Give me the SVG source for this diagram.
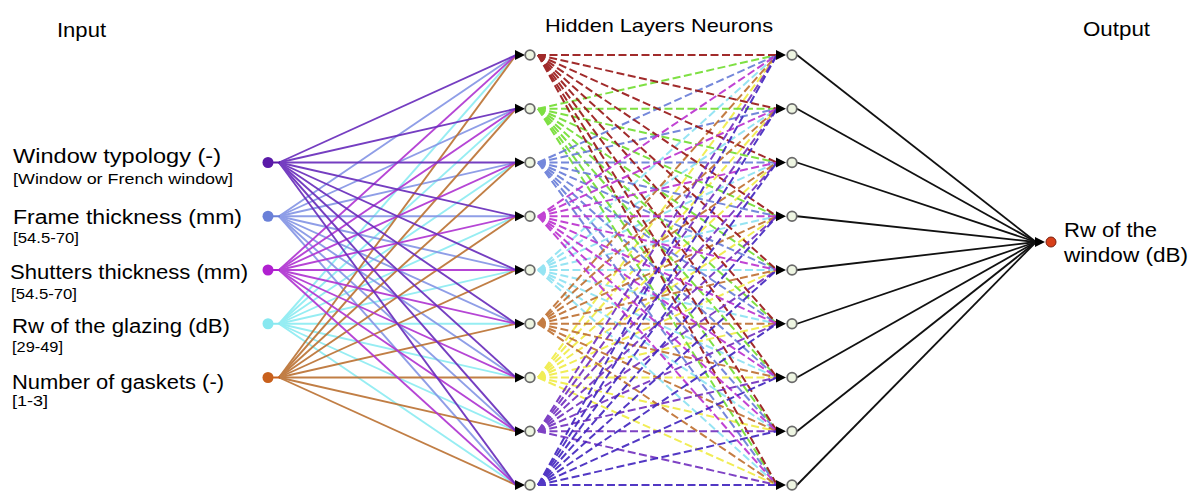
<svg xmlns="http://www.w3.org/2000/svg" xmlns:xlink="http://www.w3.org/1999/xlink" width="1192" height="491" viewBox="0 0 1192 491">
<style>
.t{font-family:"Liberation Sans",Arial,sans-serif;fill:#000}
.big{font-size:20px}
.small{font-size:14px}
.ci{fill:none;stroke-width:1.9;opacity:.92}
.dh{fill:none;stroke-width:2;stroke-dasharray:8 3.5;opacity:.92}
.out{stroke:#111;stroke-width:1.8}
.hn{fill:#eef5e2;stroke:#6a6a6a;stroke-width:1.8}
.ah{fill:#000}
</style>
<defs>
<path id="ah" d="M-10,-5L0,0L-10,5Z"/>
</defs>
<rect width="1192" height="491" fill="#fff"/>
<g id="titles">
<text class="t big" x="57" y="37" textLength="49" lengthAdjust="spacingAndGlyphs">Input</text>
<text class="t" style="font-size:19px" x="545" y="32" textLength="228" lengthAdjust="spacingAndGlyphs">Hidden Layers Neurons</text>
<text class="t big" x="1083" y="36" textLength="67" lengthAdjust="spacingAndGlyphs">Output</text>
</g>
<g id="connectors">
<g id="in-to-h1">
<g class="ci" stroke="#8eecf2">
<line x1="279" y1="323.75" x2="516" y2="55"/><line x1="279" y1="323.75" x2="516" y2="108.75"/><line x1="279" y1="323.75" x2="516" y2="162.5"/><line x1="279" y1="323.75" x2="516" y2="216.25"/><line x1="279" y1="323.75" x2="516" y2="270"/><line x1="279" y1="323.75" x2="516" y2="323.75"/><line x1="279" y1="323.75" x2="516" y2="377.5"/><line x1="279" y1="323.75" x2="516" y2="431.25"/><line x1="279" y1="323.75" x2="516" y2="485"/>
</g>
<g class="ci" stroke="#8696e6">
<line x1="279" y1="216.25" x2="516" y2="55"/><line x1="279" y1="216.25" x2="516" y2="108.75"/><line x1="279" y1="216.25" x2="516" y2="162.5"/><line x1="279" y1="216.25" x2="516" y2="216.25"/><line x1="279" y1="216.25" x2="516" y2="270"/><line x1="279" y1="216.25" x2="516" y2="323.75"/><line x1="279" y1="216.25" x2="516" y2="377.5"/><line x1="279" y1="216.25" x2="516" y2="431.25"/><line x1="279" y1="216.25" x2="516" y2="485"/>
</g>
<g class="ci" stroke="#bc7436">
<line x1="279" y1="377.5" x2="516" y2="55"/><line x1="279" y1="377.5" x2="516" y2="108.75"/><line x1="279" y1="377.5" x2="516" y2="162.5"/><line x1="279" y1="377.5" x2="516" y2="216.25"/><line x1="279" y1="377.5" x2="516" y2="270"/><line x1="279" y1="377.5" x2="516" y2="323.75"/><line x1="279" y1="377.5" x2="516" y2="377.5"/><line x1="279" y1="377.5" x2="516" y2="431.25"/><line x1="279" y1="377.5" x2="516" y2="485"/>
</g>
<g class="ci" stroke="#b036d2">
<line x1="279" y1="270" x2="516" y2="55"/><line x1="279" y1="270" x2="516" y2="108.75"/><line x1="279" y1="270" x2="516" y2="162.5"/><line x1="279" y1="270" x2="516" y2="216.25"/><line x1="279" y1="270" x2="516" y2="270"/><line x1="279" y1="270" x2="516" y2="323.75"/><line x1="279" y1="270" x2="516" y2="377.5"/><line x1="279" y1="270" x2="516" y2="431.25"/><line x1="279" y1="270" x2="516" y2="485"/>
</g>
<g class="ci" stroke="#6a2ebc">
<line x1="279" y1="162.5" x2="516" y2="55"/><line x1="279" y1="162.5" x2="516" y2="108.75"/><line x1="279" y1="162.5" x2="516" y2="162.5"/><line x1="279" y1="162.5" x2="516" y2="216.25"/><line x1="279" y1="162.5" x2="516" y2="270"/><line x1="279" y1="162.5" x2="516" y2="323.75"/><line x1="279" y1="162.5" x2="516" y2="377.5"/><line x1="279" y1="162.5" x2="516" y2="431.25"/><line x1="279" y1="162.5" x2="516" y2="485"/>
</g>
</g>
<g id="h1-to-h2">
<g class="dh" stroke="#f0ec48">
<line x1="538" y1="377.5" x2="777" y2="55"/><line x1="538" y1="377.5" x2="777" y2="108.75"/><line x1="538" y1="377.5" x2="777" y2="162.5"/><line x1="538" y1="377.5" x2="777" y2="216.25"/><line x1="538" y1="377.5" x2="777" y2="270"/><line x1="538" y1="377.5" x2="777" y2="323.75"/><line x1="538" y1="377.5" x2="777" y2="377.5"/><line x1="538" y1="377.5" x2="777" y2="431.25"/><line x1="538" y1="377.5" x2="777" y2="485"/>
</g>
<g class="dh" stroke="#8ee2f2">
<line x1="538" y1="270" x2="777" y2="55"/><line x1="538" y1="270" x2="777" y2="108.75"/><line x1="538" y1="270" x2="777" y2="162.5"/><line x1="538" y1="270" x2="777" y2="216.25"/><line x1="538" y1="270" x2="777" y2="270"/><line x1="538" y1="270" x2="777" y2="323.75"/><line x1="538" y1="270" x2="777" y2="377.5"/><line x1="538" y1="270" x2="777" y2="431.25"/><line x1="538" y1="270" x2="777" y2="485"/>
</g>
<g class="dh" stroke="#74de34">
<line x1="538" y1="108.75" x2="777" y2="55"/><line x1="538" y1="108.75" x2="777" y2="108.75"/><line x1="538" y1="108.75" x2="777" y2="162.5"/><line x1="538" y1="108.75" x2="777" y2="216.25"/><line x1="538" y1="108.75" x2="777" y2="270"/><line x1="538" y1="108.75" x2="777" y2="323.75"/><line x1="538" y1="108.75" x2="777" y2="377.5"/><line x1="538" y1="108.75" x2="777" y2="431.25"/><line x1="538" y1="108.75" x2="777" y2="485"/>
</g>
<g class="dh" stroke="#6a7ed8">
<line x1="538" y1="162.5" x2="777" y2="55"/><line x1="538" y1="162.5" x2="777" y2="108.75"/><line x1="538" y1="162.5" x2="777" y2="162.5"/><line x1="538" y1="162.5" x2="777" y2="216.25"/><line x1="538" y1="162.5" x2="777" y2="270"/><line x1="538" y1="162.5" x2="777" y2="323.75"/><line x1="538" y1="162.5" x2="777" y2="377.5"/><line x1="538" y1="162.5" x2="777" y2="431.25"/><line x1="538" y1="162.5" x2="777" y2="485"/>
</g>
<g class="dh" stroke="#c07234">
<line x1="538" y1="323.75" x2="777" y2="55"/><line x1="538" y1="323.75" x2="777" y2="108.75"/><line x1="538" y1="323.75" x2="777" y2="162.5"/><line x1="538" y1="323.75" x2="777" y2="216.25"/><line x1="538" y1="323.75" x2="777" y2="270"/><line x1="538" y1="323.75" x2="777" y2="323.75"/><line x1="538" y1="323.75" x2="777" y2="377.5"/><line x1="538" y1="323.75" x2="777" y2="431.25"/><line x1="538" y1="323.75" x2="777" y2="485"/>
</g>
<g class="dh" stroke="#9a1a1a">
<line x1="538" y1="55" x2="777" y2="55"/><line x1="538" y1="55" x2="777" y2="108.75"/><line x1="538" y1="55" x2="777" y2="162.5"/><line x1="538" y1="55" x2="777" y2="216.25"/><line x1="538" y1="55" x2="777" y2="270"/><line x1="538" y1="55" x2="777" y2="323.75"/><line x1="538" y1="55" x2="777" y2="377.5"/><line x1="538" y1="55" x2="777" y2="431.25"/><line x1="538" y1="55" x2="777" y2="485"/>
</g>
<g class="dh" stroke="#bc34d0">
<line x1="538" y1="216.25" x2="777" y2="55"/><line x1="538" y1="216.25" x2="777" y2="108.75"/><line x1="538" y1="216.25" x2="777" y2="162.5"/><line x1="538" y1="216.25" x2="777" y2="216.25"/><line x1="538" y1="216.25" x2="777" y2="270"/><line x1="538" y1="216.25" x2="777" y2="323.75"/><line x1="538" y1="216.25" x2="777" y2="377.5"/><line x1="538" y1="216.25" x2="777" y2="431.25"/><line x1="538" y1="216.25" x2="777" y2="485"/>
</g>
<g class="dh" stroke="#7432c0">
<line x1="538" y1="431.25" x2="777" y2="55"/><line x1="538" y1="431.25" x2="777" y2="108.75"/><line x1="538" y1="431.25" x2="777" y2="162.5"/><line x1="538" y1="431.25" x2="777" y2="216.25"/><line x1="538" y1="431.25" x2="777" y2="270"/><line x1="538" y1="431.25" x2="777" y2="323.75"/><line x1="538" y1="431.25" x2="777" y2="377.5"/><line x1="538" y1="431.25" x2="777" y2="431.25"/><line x1="538" y1="431.25" x2="777" y2="485"/>
</g>
<g class="dh" stroke="#4428c0">
<line x1="538" y1="485" x2="777" y2="55"/><line x1="538" y1="485" x2="777" y2="108.75"/><line x1="538" y1="485" x2="777" y2="162.5"/><line x1="538" y1="485" x2="777" y2="216.25"/><line x1="538" y1="485" x2="777" y2="270"/><line x1="538" y1="485" x2="777" y2="323.75"/><line x1="538" y1="485" x2="777" y2="377.5"/><line x1="538" y1="485" x2="777" y2="431.25"/><line x1="538" y1="485" x2="777" y2="485"/>
</g>
</g>
<g id="h2-to-out" class="out">
<line x1="797" y1="55" x2="1036" y2="242"/><line x1="797" y1="108.75" x2="1036" y2="242"/><line x1="797" y1="162.5" x2="1036" y2="242"/><line x1="797" y1="216.25" x2="1036" y2="242"/><line x1="797" y1="270" x2="1036" y2="242"/><line x1="797" y1="323.75" x2="1036" y2="242"/><line x1="797" y1="377.5" x2="1036" y2="242"/><line x1="797" y1="431.25" x2="1036" y2="242"/><line x1="797" y1="485" x2="1036" y2="242"/>
</g>
<g id="arrowheads" class="ah">
<use xlink:href="#ah" x="525" y="55"/><use xlink:href="#ah" x="525" y="108.75"/><use xlink:href="#ah" x="525" y="162.5"/><use xlink:href="#ah" x="525" y="216.25"/><use xlink:href="#ah" x="525" y="270"/><use xlink:href="#ah" x="525" y="323.75"/><use xlink:href="#ah" x="525" y="377.5"/><use xlink:href="#ah" x="525" y="431.25"/><use xlink:href="#ah" x="525" y="485"/>
<use xlink:href="#ah" x="786" y="55"/><use xlink:href="#ah" x="786" y="108.75"/><use xlink:href="#ah" x="786" y="162.5"/><use xlink:href="#ah" x="786" y="216.25"/><use xlink:href="#ah" x="786" y="270"/><use xlink:href="#ah" x="786" y="323.75"/><use xlink:href="#ah" x="786" y="377.5"/><use xlink:href="#ah" x="786" y="431.25"/><use xlink:href="#ah" x="786" y="485"/>
<use xlink:href="#ah" x="1045" y="242"/>
</g>
</g>
<g id="input1">
<line x1="268" y1="162.5" x2="280" y2="162.5" stroke="#5a1aa8" stroke-width="2"/>
<circle cx="268" cy="162.5" r="5.5" fill="#5a1aa8"/>
<text class="t big" x="13" y="162.5" textLength="208" lengthAdjust="spacingAndGlyphs">Window typology (-)</text>
<text class="t small" x="13" y="184" textLength="220" lengthAdjust="spacingAndGlyphs">[Window or French window]</text>
</g>
<g id="input2">
<line x1="268" y1="216.25" x2="280" y2="216.25" stroke="#6a80d8" stroke-width="2"/>
<circle cx="268" cy="216.25" r="5.5" fill="#6a80d8"/>
<text class="t big" x="13" y="224" textLength="229" lengthAdjust="spacingAndGlyphs">Frame thickness (mm)</text>
<text class="t small" x="13" y="243" textLength="66" lengthAdjust="spacingAndGlyphs">[54.5-70]</text>
</g>
<g id="input3">
<line x1="268" y1="270" x2="280" y2="270" stroke="#b020d0" stroke-width="2"/>
<circle cx="268" cy="270" r="5.5" fill="#b020d0"/>
<text class="t big" x="10" y="279" textLength="238" lengthAdjust="spacingAndGlyphs">Shutters thickness (mm)</text>
<text class="t small" x="11" y="299" textLength="66" lengthAdjust="spacingAndGlyphs">[54.5-70]</text>
</g>
<g id="input4">
<line x1="268" y1="323.75" x2="280" y2="323.75" stroke="#88e8f0" stroke-width="2"/>
<circle cx="268" cy="323.75" r="5.5" fill="#88e8f0"/>
<text class="t big" x="12" y="333" textLength="218" lengthAdjust="spacingAndGlyphs">Rw of the glazing (dB)</text>
<text class="t small" x="12" y="352" textLength="51" lengthAdjust="spacingAndGlyphs">[29-49]</text>
</g>
<g id="input5">
<line x1="268" y1="377.5" x2="280" y2="377.5" stroke="#c8601c" stroke-width="2"/>
<circle cx="268" cy="377.5" r="5.5" fill="#c8601c"/>
<text class="t big" x="12" y="389" textLength="212" lengthAdjust="spacingAndGlyphs">Number of gaskets (-)</text>
<text class="t small" x="12" y="406" textLength="36" lengthAdjust="spacingAndGlyphs">[1-3]</text>
</g>
<g id="hidden1-1"><circle class="hn" cx="530" cy="55" r="4.8"/></g>
<g id="hidden1-2"><circle class="hn" cx="530" cy="108.75" r="4.8"/></g>
<g id="hidden1-3"><circle class="hn" cx="530" cy="162.5" r="4.8"/></g>
<g id="hidden1-4"><circle class="hn" cx="530" cy="216.25" r="4.8"/></g>
<g id="hidden1-5"><circle class="hn" cx="530" cy="270" r="4.8"/></g>
<g id="hidden1-6"><circle class="hn" cx="530" cy="323.75" r="4.8"/></g>
<g id="hidden1-7"><circle class="hn" cx="530" cy="377.5" r="4.8"/></g>
<g id="hidden1-8"><circle class="hn" cx="530" cy="431.25" r="4.8"/></g>
<g id="hidden1-9"><circle class="hn" cx="530" cy="485" r="4.8"/></g>
<g id="hidden2-1"><circle class="hn" cx="792" cy="55" r="4.8"/></g>
<g id="hidden2-2"><circle class="hn" cx="792" cy="108.75" r="4.8"/></g>
<g id="hidden2-3"><circle class="hn" cx="792" cy="162.5" r="4.8"/></g>
<g id="hidden2-4"><circle class="hn" cx="792" cy="216.25" r="4.8"/></g>
<g id="hidden2-5"><circle class="hn" cx="792" cy="270" r="4.8"/></g>
<g id="hidden2-6"><circle class="hn" cx="792" cy="323.75" r="4.8"/></g>
<g id="hidden2-7"><circle class="hn" cx="792" cy="377.5" r="4.8"/></g>
<g id="hidden2-8"><circle class="hn" cx="792" cy="431.25" r="4.8"/></g>
<g id="hidden2-9"><circle class="hn" cx="792" cy="485" r="4.8"/></g>
<g id="output">
<circle cx="1051" cy="242" r="5" fill="#d8401a" stroke="#7a2010" stroke-width="1"/>
<text class="t big" x="1064" y="237" textLength="93" lengthAdjust="spacingAndGlyphs">Rw of the</text>
<text class="t big" x="1064" y="262" textLength="124" lengthAdjust="spacingAndGlyphs">window (dB)</text>
</g>
</svg>
